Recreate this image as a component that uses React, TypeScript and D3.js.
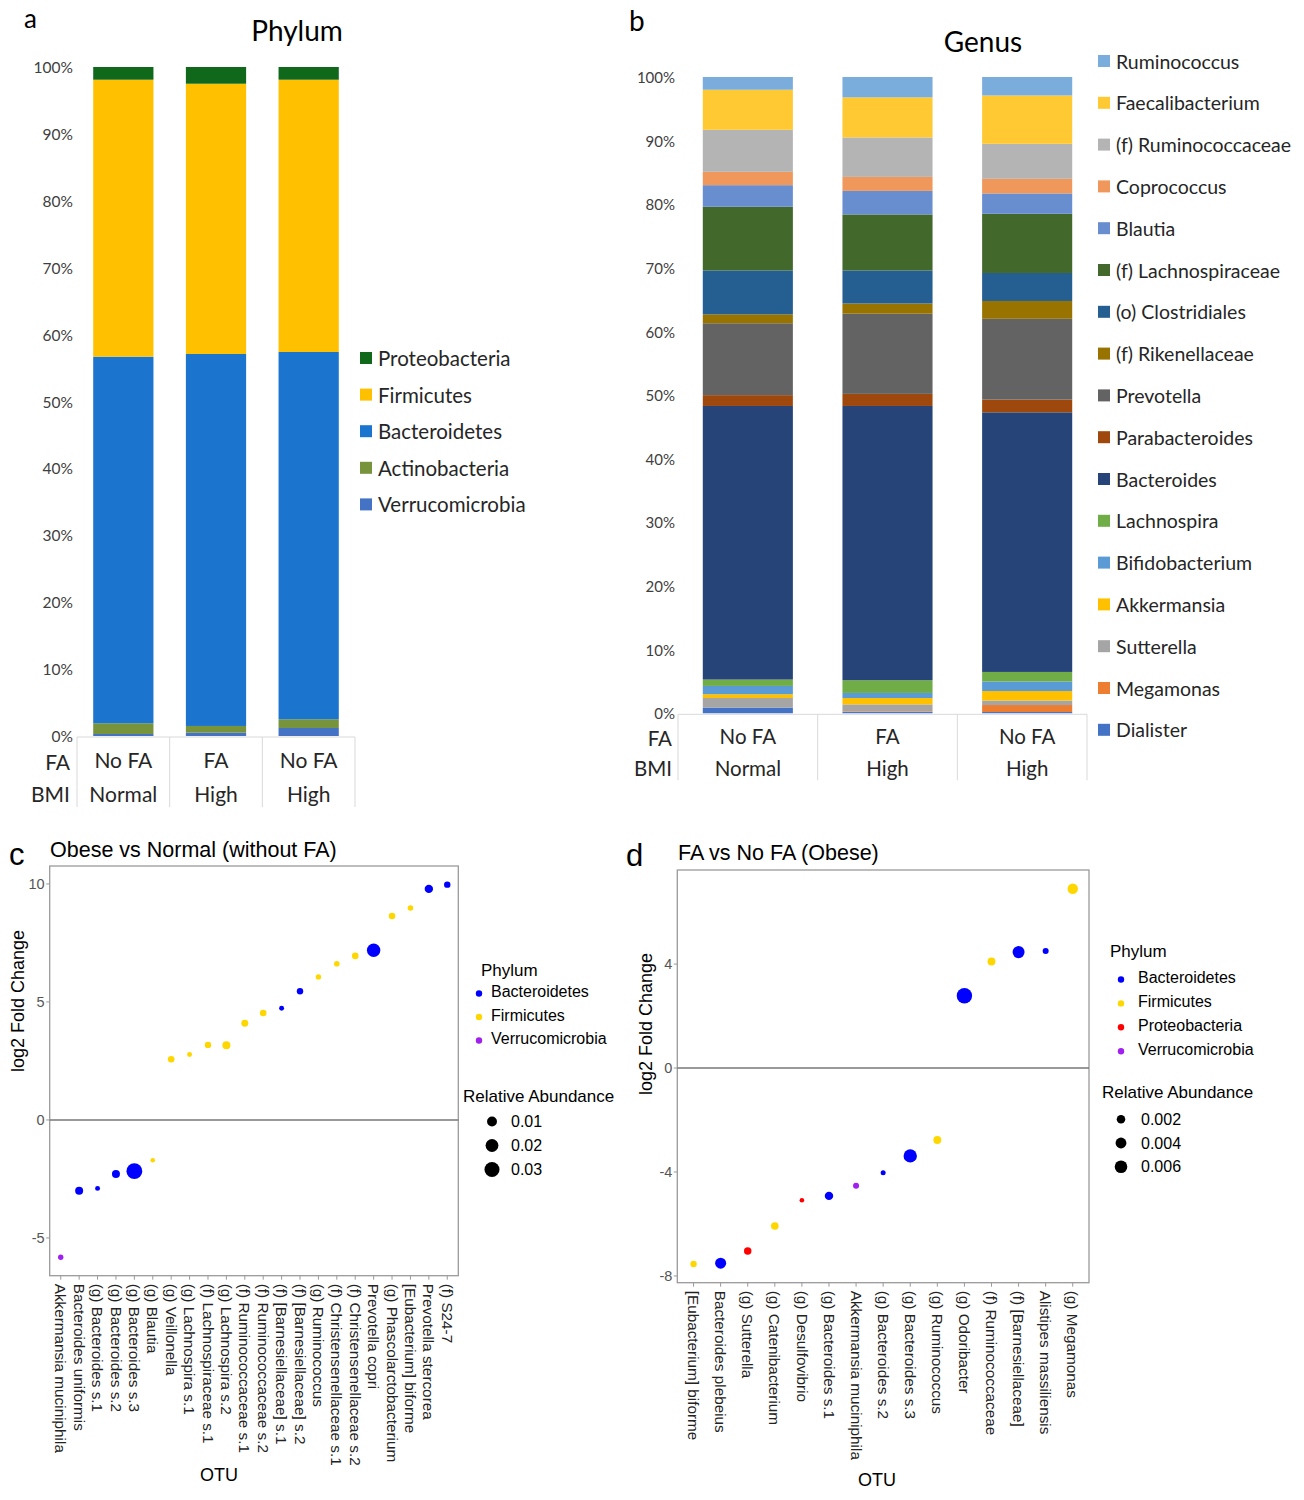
import React from "react";
import * as d3 from "d3";

// ---------- shared group labels ----------
const groupFA = ["No FA", "FA", "No FA"];
const groupBMI = ["Normal", "High", "High"];

// ---------- panel a: phylum relative abundance (%) per group ----------
const phylumNames = ["Proteobacteria", "Firmicutes", "Bacteroidetes", "Actinobacteria", "Verrucomicrobia"];
const proteobacteriaPct = [1.9, 2.5, 1.9];
const firmicutesPct = [41.4, 40.4, 40.7];
const bacteroidetesPct = [54.8, 55.6, 54.9];
const actinobacteriaPct = [1.6, 1.0, 1.3];
const verrucomicrobiaPct = [0.3, 0.5, 1.2];
const phylumBarColors = ["#10691a", "#ffc000", "#1b74cd", "#77933c", "#4472c4"];

// ---------- panel b: genus relative abundance (%) per group ----------
const genusNames = [
  "Ruminococcus", "Faecalibacterium", "(f) Ruminococcaceae", "Coprococcus", "Blautia",
  "(f) Lachnospiraceae", "(o) Clostridiales", "(f) Rikenellaceae", "Prevotella", "Parabacteroides",
  "Bacteroides", "Lachnospira", "Bifidobacterium", "Akkermansia", "Sutterella", "Megamonas", "Dialister",
];
const ruminococcusPct = [2.0, 3.2, 2.9];
const faecalibacteriumPct = [6.3, 6.3, 7.6];
const ruminococcaceaePct = [6.6, 6.2, 5.5];
const coprococcusPct = [2.1, 2.2, 2.3];
const blautiaPct = [3.4, 3.7, 3.2];
const lachnospiraceaePct = [10.0, 8.8, 9.3];
const clostridialesPct = [6.9, 5.2, 4.4];
const rikenellaceaePct = [1.4, 1.6, 2.8];
const prevotellaPct = [11.3, 12.6, 12.7];
const parabacteroidesPct = [1.7, 1.9, 2.0];
const bacteroidesPct = [43.0, 43.1, 40.8];
const lachnospiraPct = [1.0, 2.0, 1.5];
const bifidobacteriumPct = [1.3, 0.8, 1.5];
const akkermansiaPct = [0.6, 1.0, 1.5];
const sutterellaPct = [1.5, 1.1, 0.7];
const megamonasPct = [0.0, 0.1, 1.1];
const dialisterPct = [0.9, 0.2, 0.2];
const genusColors = [
  "#7aacdc", "#fec933", "#b4b4b4", "#f0975b", "#698ecf", "#43682b", "#255e91", "#997300",
  "#636363", "#9e480e", "#264478", "#70ad47", "#5b9bd5", "#ffc000", "#a5a5a5", "#ed7d31", "#4472c4",
];

// ---------- panel c: Obese vs Normal (without FA) ----------
const otuC = [
  "Akkermansia muciniphila", "Bacteroides uniformis", "(g) Bacteroides s.1", "(g) Bacteroides s.2",
  "(g) Bacteroides s.3", "(g) Blautia", "(g) Veillonella", "(g) Lachnospira s.1",
  "(f) Lachnospiraceae s.1", "(g) Lachnospira s.2", "(f) Ruminococcaceae s.1", "(f) Ruminococcaceae s.2",
  "(f) [Barnesiellaceae] s.1", "(f) [Barnesiellaceae] s.2", "(g) Ruminococcus",
  "(f) Christensenellaceae s.1", "(f) Christensenellaceae s.2", "Prevotella copri",
  "(g) Phascolarctobacterium", "[Eubacterium] biforme", "Prevotella stercorea", "(f) S24-7",
];
const lfcC = [-5.82, -3.0, -2.9, -2.29, -2.17, -1.71, 2.57, 2.77, 3.18, 3.16, 4.1, 4.53, 4.73, 5.45, 6.06, 6.62, 6.95, 7.19, 8.64, 8.98, 9.79, 9.97];
const phylumC = [
  "Verrucomicrobia", "Bacteroidetes", "Bacteroidetes", "Bacteroidetes", "Bacteroidetes", "Firmicutes",
  "Firmicutes", "Firmicutes", "Firmicutes", "Firmicutes", "Firmicutes", "Firmicutes", "Bacteroidetes",
  "Bacteroidetes", "Firmicutes", "Firmicutes", "Firmicutes", "Bacteroidetes", "Firmicutes", "Firmicutes",
  "Bacteroidetes", "Bacteroidetes",
];
const abundC = [0.0012, 0.0052, 0.0008, 0.0052, 0.034, 0.0005, 0.0027, 0.0008, 0.0024, 0.0052, 0.0033, 0.0027, 0.0008, 0.0024, 0.0012, 0.0014, 0.0027, 0.0224, 0.0027, 0.0014, 0.006, 0.0024];
const legendPhylaC = ["Bacteroidetes", "Firmicutes", "Verrucomicrobia"];
const abundLegendC = [0.01, 0.02, 0.03];
const yTicksC = [-5, 0, 5, 10];

// ---------- panel d: FA vs No FA (Obese) ----------
const otuD = [
  "[Eubacterium] biforme", "Bacteroides plebeius", "(g) Sutterella", "(g) Catenibacterium",
  "(g) Desulfovibrio", "(g) Bacteroides s.1", "Akkermansia muciniphila", "(g) Bacteroides s.2",
  "(g) Bacteroides s.3", "(g) Ruminococcus", "(g) Odoribacter", "(f) Ruminococcaceae",
  "(f) [Barnesiellaceae]", "Alistipes massiliensis", "(g) Megamonas",
];
const lfcD = [-7.54, -7.51, -7.04, -6.08, -5.09, -4.92, -4.53, -4.03, -3.38, -2.77, 2.78, 4.1, 4.46, 4.5, 6.9];
const phylumD = [
  "Firmicutes", "Bacteroidetes", "Proteobacteria", "Firmicutes", "Proteobacteria", "Bacteroidetes",
  "Verrucomicrobia", "Bacteroidetes", "Bacteroidetes", "Firmicutes", "Bacteroidetes", "Firmicutes",
  "Bacteroidetes", "Bacteroidetes", "Firmicutes",
];
const abundD = [0.00075, 0.0042, 0.0013, 0.0014, 0.00017, 0.0019, 0.0006, 0.00026, 0.007, 0.0016, 0.01, 0.0016, 0.0053, 0.0006, 0.0036];
const legendPhylaD = ["Bacteroidetes", "Firmicutes", "Proteobacteria", "Verrucomicrobia"];
const abundLegendD = [0.002, 0.004, 0.006];
const yTicksD = [-8, -4, 0, 4];

const phylumDotColor: Record<string, string> = {
  Bacteroidetes: "#0000ff",
  Firmicutes: "#ffd700",
  Proteobacteria: "#ff0000",
  Verrucomicrobia: "#a020f0",
};

const FONT_A = "Lato, 'Open Sans', sans-serif";
const FONT_C = "'Liberation Sans', Arial, Helvetica, sans-serif";

type StackProps = {
  names: string[];
  values: number[][];
  colors: string[];
  x0: number; x1: number; padInner: number;
  yBottom: number; yTop: number;
  tableRight: number; tableHeight: number;
  tickRight: number; tickFont: number;
  rowY: number[]; rowFont: number; rowLabelRight: number;
  title: string; titleX: number; titleY: number;
  letter: string; letterX: number; letterY: number; letterSize: number;
  legX: number; legY0: number; legStep: number; legFont: number; legTextX: number;
};

function StackedPanel(p: StackProps) {
  const y = d3.scaleLinear().domain([0, 100]).range([p.yBottom, p.yTop]);
  const idx = groupFA.map((_, i) => String(i));
  const x = d3.scaleBand().domain(idx).range([p.x0, p.x1]).paddingInner(p.padInner).paddingOuter(p.padInner / 2);
  const rows = groupFA.map((_, g) => {
    const r: Record<string, number> = {};
    p.names.forEach((n, k) => (r[n] = p.values[k][g]));
    return r;
  });
  const keys = p.names.slice().reverse();
  const series = d3.stack<Record<string, number>>().keys(keys)(rows);
  const color = d3.scaleOrdinal<string, string>().domain(p.names).range(p.colors);
  const step = x.step();
  const bounds = [p.x0, p.x0 + step, p.x0 + 2 * step, p.tableRight];
  const tTop = p.yBottom + 1;
  return (
    <g>
      <text x={p.letterX} y={p.letterY} fontFamily={FONT_A} fontSize={p.letterSize} fill="#000">{p.letter}</text>
      <text x={p.titleX} y={p.titleY} textAnchor="middle" fontFamily={FONT_A} fontSize={28} fill="#000">{p.title}</text>
      {y.ticks(10).map((t) => (
        <text key={t} x={p.tickRight} y={y(t)} textAnchor="end" dominantBaseline="central" fontFamily={FONT_A} fontSize={p.tickFont} fill="#404040">{`${t}%`}</text>
      ))}
      {series.map((s) => (
        <g key={s.key} fill={color(s.key)}>
          {s.map((d, i) => (
            <rect key={i} x={x(String(i))} y={y(d[1])} width={x.bandwidth()} height={Math.max(0, y(d[0]) - y(d[1]))} />
          ))}
        </g>
      ))}
      <line x1={p.x0} x2={p.tableRight} y1={tTop} y2={tTop} stroke="#d9d9d9" strokeWidth={1} />
      {bounds.map((bx, i) => (
        <line key={i} x1={bx} x2={bx} y1={tTop} y2={tTop + p.tableHeight} stroke="#d9d9d9" strokeWidth={1} />
      ))}
      {groupFA.map((g, i) => (
        <g key={i}>
          <text x={(x(String(i)) as number) + x.bandwidth() / 2} y={p.rowY[0]} textAnchor="middle" dominantBaseline="central" fontFamily={FONT_A} fontSize={p.rowFont} fill="#262626">{g}</text>
          <text x={(x(String(i)) as number) + x.bandwidth() / 2} y={p.rowY[1]} textAnchor="middle" dominantBaseline="central" fontFamily={FONT_A} fontSize={p.rowFont} fill="#262626">{groupBMI[i]}</text>
        </g>
      ))}
      <text x={p.rowLabelRight} y={p.rowY[0] + 2} textAnchor="end" dominantBaseline="central" fontFamily={FONT_A} fontSize={p.rowFont} fill="#262626">FA</text>
      <text x={p.rowLabelRight} y={p.rowY[1]} textAnchor="end" dominantBaseline="central" fontFamily={FONT_A} fontSize={p.rowFont} fill="#262626">BMI</text>
      {p.names.map((n, k) => (
        <g key={n}>
          <rect x={p.legX} y={p.legY0 + k * p.legStep - 6} width={12} height={12} fill={color(n)} />
          <text x={p.legTextX} y={p.legY0 + k * p.legStep} dominantBaseline="central" fontFamily={FONT_A} fontSize={p.legFont} fill="#262626">{n}</text>
        </g>
      ))}
    </g>
  );
}

type DotProps = {
  otu: string[]; lfc: number[]; phyla: string[]; abund: number[];
  left: number; right: number; top: number; bottom: number;
  yDomain: [number, number]; yTicks: number[]; rMax: number;
  title: string; titleX: number; titleY: number;
  letter: string; letterX: number; letterY: number;
  yLabelX: number; yLabelY: number; otuX: number; otuY: number;
  legPhyla: string[]; legTitleX: number; legTitleY: number; legY0: number; legStep: number; legDotX: number; legTextX: number;
  raValues: number[]; raTitleX: number; raTitleY: number; raY0: number; raStep: number; raDotX: number; raTextX: number;
};

function DotPanel(p: DotProps) {
  const x = d3.scalePoint<string>().domain(p.otu).range([p.left, p.right]).padding(0.6);
  const y = d3.scaleLinear().domain(p.yDomain).range([p.bottom, p.top]);
  const r = d3.scaleSqrt().domain([0, p.rMax]).range([1.5, 8]);
  return (
    <g fontFamily={FONT_C}>
      <text x={p.letterX} y={p.letterY} fontSize={31} fill="#000">{p.letter}</text>
      <text x={p.titleX} y={p.titleY} fontSize={21.5} fill="#000">{p.title}</text>
      <rect x={p.left} y={p.top} width={p.right - p.left} height={p.bottom - p.top} fill="#fff" stroke="#9a9a9a" strokeWidth={1.3} />
      <line x1={p.left} x2={p.right} y1={y(0)} y2={y(0)} stroke="#777" strokeWidth={1.5} />
      {p.yTicks.map((t) => (
        <g key={t}>
          <line x1={p.left - 3.5} x2={p.left} y1={y(t)} y2={y(t)} stroke="#9a9a9a" strokeWidth={1} />
          <text x={p.left - 5} y={y(t)} textAnchor="end" dominantBaseline="central" fontSize={14.5} fill="#555">{t}</text>
        </g>
      ))}
      {p.otu.map((o) => (
        <g key={o}>
          <line x1={x(o)} x2={x(o)} y1={p.bottom} y2={p.bottom + 4} stroke="#9a9a9a" strokeWidth={1} />
          <text transform={`translate(${x(o)},${p.bottom + 8}) rotate(90)`} dy="0.35em" fontSize={15.3} fill="#222">{o}</text>
        </g>
      ))}
      {p.otu.map((o, i) => (
        <circle key={o} cx={x(o)} cy={y(p.lfc[i])} r={r(p.abund[i])} fill={phylumDotColor[p.phyla[i]]} />
      ))}
      <text transform={`translate(${p.yLabelX},${p.yLabelY}) rotate(-90)`} textAnchor="middle" dominantBaseline="central" fontSize={18} fill="#000">log2 Fold Change</text>
      <text x={p.otuX} y={p.otuY} textAnchor="middle" dominantBaseline="central" fontSize={18} fill="#000">OTU</text>
      <text x={p.legTitleX} y={p.legTitleY} dominantBaseline="central" fontSize={17} fill="#000">Phylum</text>
      {p.legPhyla.map((ph, k) => (
        <g key={ph}>
          <circle cx={p.legDotX} cy={p.legY0 + k * p.legStep + 2} r={3.2} fill={phylumDotColor[ph]} />
          <text x={p.legTextX} y={p.legY0 + k * p.legStep} dominantBaseline="central" fontSize={16} fill="#000">{ph}</text>
        </g>
      ))}
      <text x={p.raTitleX} y={p.raTitleY} dominantBaseline="central" fontSize={17} fill="#000">Relative Abundance</text>
      {p.raValues.map((v, k) => (
        <g key={v}>
          <circle cx={p.raDotX} cy={p.raY0 + k * p.raStep} r={r(v)} fill="#000" />
          <text x={p.raTextX} y={p.raY0 + k * p.raStep} dominantBaseline="central" fontSize={16} fill="#000">{v}</text>
        </g>
      ))}
    </g>
  );
}

export default function App() {
  return (
    <svg width={1304} height={1500} viewBox="0 0 1304 1500" style={{ position: "absolute", left: 0, top: 0, background: "#fff" }}>
      <rect width={1304} height={1500} fill="#fff" />
      <StackedPanel
        names={phylumNames}
        values={[proteobacteriaPct, firmicutesPct, bacteroidetesPct, actinobacteriaPct, verrucomicrobiaPct]}
        colors={phylumBarColors}
        x0={77} x1={355} padInner={0.35} yBottom={736} yTop={67}
        tableRight={355} tableHeight={70} tickRight={73} tickFont={15.5}
        rowY={[759, 793]} rowFont={21} rowLabelRight={70}
        title="Phylum" titleX={297} titleY={41}
        letter="a" letterX={24} letterY={28} letterSize={26}
        legX={360} legY0={358} legStep={36.6} legFont={20.5} legTextX={378}
      />
      <StackedPanel
        names={genusNames}
        values={[ruminococcusPct, faecalibacteriumPct, ruminococcaceaePct, coprococcusPct, blautiaPct, lachnospiraceaePct, clostridialesPct, rikenellaceaePct, prevotellaPct, parabacteroidesPct, bacteroidesPct, lachnospiraPct, bifidobacteriumPct, akkermansiaPct, sutterellaPct, megamonasPct, dialisterPct]}
        colors={genusColors}
        x0={678} x1={1097} padInner={0.355} yBottom={713.3} yTop={77}
        tableRight={1087} tableHeight={66} tickRight={675} tickFont={15}
        rowY={[736, 768]} rowFont={20.5} rowLabelRight={672}
        title="Genus" titleX={983} titleY={52}
        letter="b" letterX={629} letterY={31} letterSize={28}
        legX={1098} legY0={61} legStep={41.8} legFont={19.5} legTextX={1116}
      />
      <DotPanel
        otu={otuC} lfc={lfcC} phyla={phylumC} abund={abundC}
        left={49.7} right={458.3} top={866} bottom={1275.7}
        yDomain={[-6.6, 10.76]} yTicks={yTicksC} rMax={0.035}
        title="Obese vs Normal (without FA)" titleX={50} titleY={857}
        letter="c" letterX={9} letterY={865}
        yLabelX={18} yLabelY={1001} otuX={219} otuY={1475}
        legPhyla={legendPhylaC} legTitleX={481} legTitleY={970} legY0={991.5} legStep={23.5} legDotX={479} legTextX={491}
        raValues={abundLegendC} raTitleX={463} raTitleY={1096} raY0={1121.5} raStep={24} raDotX={492} raTextX={511}
      />
      <DotPanel
        otu={otuD} lfc={lfcD} phyla={phylumD} abund={abundD}
        left={677.3} right={1089} top={870} bottom={1282.7}
        yDomain={[-8.26, 7.62]} yTicks={yTicksD} rMax={0.011}
        title="FA vs No FA (Obese)" titleX={678} titleY={860}
        letter="d" letterX={626} letterY={866}
        yLabelX={646} yLabelY={1024} otuX={877} otuY={1480}
        legPhyla={legendPhylaD} legTitleX={1110} legTitleY={951} legY0={977.5} legStep={23.9} legDotX={1121} legTextX={1138}
        raValues={abundLegendD} raTitleX={1102} raTitleY={1092} raY0={1119.3} raStep={23.7} raDotX={1121} raTextX={1141}
      />
    </svg>
  );
}
